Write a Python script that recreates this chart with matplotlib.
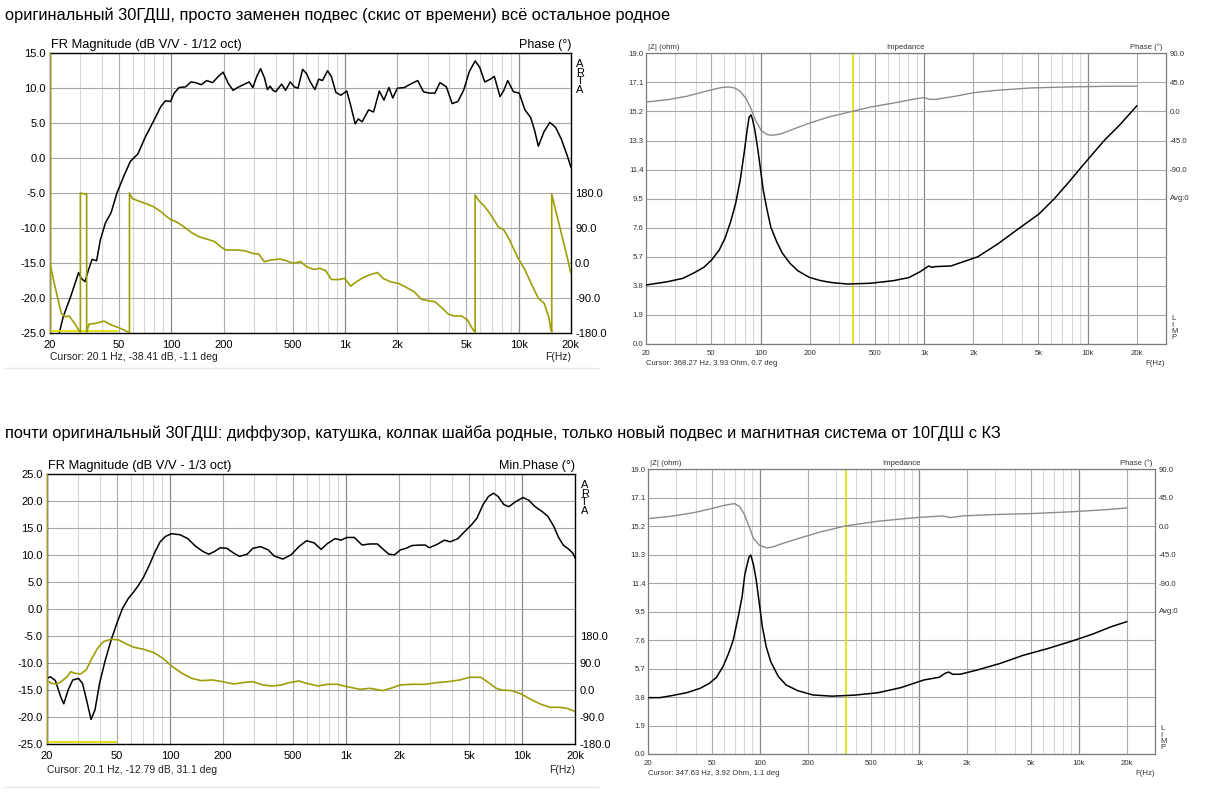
import numpy as np
import matplotlib.pyplot as plt
from matplotlib.lines import Line2D

plt.rcParams['font.family'] = ['Liberation Sans', 'DejaVu Sans']

TITLE_TOP = "оригинальный 30ГДШ, просто заменен подвес (скис от времени) всё остальное родное"
TITLE_BOTTOM = ("почти оригинальный 30ГДШ: диффузор, катушка, колпак шайба родные, "
                "только новый подвес и магнитная система от 10ГДШ с КЗ")

XTICKS = [20, 50, 100, 200, 500, 1000, 2000, 5000, 10000, 20000]
XTICK_LABELS = ["20", "50", "100", "200", "500", "1k", "2k", "5k", "10k", "20k"]

# --- panel 1: FR 1/12 oct, (Hz, dB) and wrapped phase (Hz, deg) ---
fr1_mag = [(20, -38.4), (22.7, -25.0), (23.9, -22.7), (26.4, -19.8), (29.3, -16.4), (30.3, -17.2),
           (31.9, -17.7), (33.3, -16.1), (35.0, -14.5), (37.2, -14.7), (39.1, -11.7), (41.8, -9.3),
           (45.1, -7.8), (48.7, -5.0), (53.1, -2.7), (58.1, -0.5), (64.3, 0.6), (71.2, 3.1),
           (78.8, 5.2), (87.2, 7.4), (92.7, 8.2), (99.1, 8.1), (104, 9.3), (111, 10.1), (121, 10.2),
           (130, 10.9), (138, 10.8), (149, 10.5), (160, 11.1), (173, 10.8), (187, 11.7), (199, 12.3),
           (213, 10.7), (227, 9.7), (241, 10.1), (260, 10.5), (281, 10.9), (295, 10.1), (311, 11.7),
           (327, 12.8), (344, 11.5), (358, 9.8), (371, 10.3), (385, 9.7), (400, 9.5), (432, 10.6),
           (455, 9.7), (485, 10.9), (511, 10.2), (537, 10.0), (571, 12.7), (601, 12.1), (632, 10.9),
           (672, 9.8), (706, 11.3), (743, 11.1), (794, 12.5), (835, 11.7), (887, 9.4), (948, 9.0),
           (1025, 9.6), (1078, 7.6), (1146, 4.9), (1194, 5.6), (1256, 5.2), (1369, 6.9), (1462, 6.6),
           (1578, 9.6), (1678, 8.3), (1792, 10.1), (1885, 8.6), (2004, 10.0), (2197, 10.1),
           (2432, 10.7), (2624, 11.1), (2832, 9.5), (3056, 9.3), (3298, 9.3), (3524, 10.8),
           (3838, 10.2), (4142, 7.8), (4470, 8.1), (4824, 9.7), (5206, 12.4), (5622, 13.9),
           (5973, 13.0), (6382, 10.9), (6887, 11.3), (7245, 11.7), (7818, 8.8), (8224, 9.7),
           (8652, 11.1), (9340, 9.5), (10079, 9.3), (10877, 6.9), (11738, 5.8), (12348, 4.0),
           (12990, 1.7), (14020, 3.8), (15131, 5.1), (16329, 4.4), (17622, 2.7), (19018, 0.4),
           (20000, -1.3)]
fr1_phase = [(20, 0.4), (21.0, -44), (22.1, -87), (23.3, -130), (24.5, -139), (25.8, -137),
             (27.8, -156), (29.7, -177), (30.0, -180), (30.0, 180), (31.9, 177), (32.6, 178),
             (32.6, -180), (33.6, -158), (36.8, -156), (41.1, -150), (45.1, -160), (49.9, -167),
             (55.2, -176), (57.5, -180), (57.5, 180), (59.6, 166), (64.3, 160), (71.2, 153),
             (78.8, 145), (87.2, 132), (94.2, 119), (99.1, 112), (106.9, 106), (118.3, 93),
             (131, 78), (145, 67), (160.5, 61), (177.6, 55), (191.7, 42), (206.9, 33), (241, 33),
             (266.7, 31), (295.2, 24), (318.6, 23), (343.8, 3), (371, 7), (421, 10), (454.6, 6),
             (503, -1), (557, 3), (601, -10), (665, -17), (718, -14), (775, -20), (836, -43),
             (926, -43), (999, -40), (1078, -60), (1163, -49), (1288, -37), (1390, -31),
             (1538, -25), (1660, -40), (1838, -49), (2034, -53), (2252, -63), (2492, -74),
             (2758, -94), (3054, -98), (3296, -100), (3557, -113), (3937, -132), (4248, -137),
             (4702, -137), (5075, -147), (5340, -165), (5618, -180), (5618, 175), (5910, 160),
             (6378, 145), (6710, 132), (7244, 110), (7620, 93), (8224, 85), (8874, 59),
             (9824, 16), (10872, -18), (12032, -61), (12988, -91), (14016, -104), (14898, -139),
             (15360, -173), (15516, -178), (15516, 177), (16326, 136), (17620, 76), (19010, 16),
             (20000, -27)]
fr1_range = (20, 49, -24.7)

# --- panel 3: FR 1/3 oct ---
fr3_mag = [(20, -12.8), (21.0, -12.5), (22.4, -13.2), (24.0, -16.2), (25.0, -17.5), (26.5, -14.9),
           (28.1, -13.1), (30.3, -12.8), (31.9, -13.7), (33.5, -16.5), (35.7, -20.4), (37.6, -18.6),
           (39.9, -13.7), (43.0, -9.4), (46.4, -5.7), (50.0, -2.6), (53.9, 0.2), (58.1, 2.0),
           (62.6, 3.3), (66.5, 4.5), (71.0, 6.0), (76.5, 8.2), (82.5, 10.7), (88.0, 12.5),
           (94.4, 13.5), (102.3, 14.0), (114.2, 13.8), (126.2, 13.1), (139.5, 11.7), (154.2, 10.7),
           (166.2, 10.2), (179.1, 10.7), (193.1, 11.4), (210.3, 11.3), (230.2, 10.4), (248.1, 9.8),
           (274.2, 10.2), (295.6, 11.3), (326.8, 11.6), (361.2, 11.0), (389.4, 9.9), (436.7, 9.3),
           (487.6, 10.1), (539.1, 11.6), (595.9, 12.7), (658.6, 12.3), (720.6, 11.1), (784.4, 12.2),
           (867.1, 13.1), (934.7, 12.8), (1007.6, 13.3), (1113.7, 13.3), (1230.8, 11.9),
           (1360.7, 12.1), (1504, 12.1), (1637, 11.0), (1748, 10.2), (1884, 10.1), (2030, 11.0),
           (2188, 11.3), (2358, 11.8), (2607, 11.9), (2810, 11.9), (2955, 11.4), (3267, 12.0),
           (3611, 12.8), (3893, 12.5), (4304, 13.1), (4638, 14.2), (5126, 15.6), (5525, 16.9),
           (5957, 19.3), (6420, 20.9), (6851, 21.5), (7273, 20.9), (7841, 19.4), (8370, 19.0),
           (9113, 19.9), (10073, 20.7), (10856, 20.2), (11704, 19.1), (12939, 18.1), (13949, 17.2),
           (15035, 15.4), (16043, 13.3), (17034, 11.9), (18358, 11.1), (19304, 10.4), (20000, 9.4)]
fr3_phase = [(20, 31), (21.3, 23.3), (22.8, 21.1), (24.2, 28.9), (26.1, 45.6), (27.4, 62.2),
             (28.8, 56.7), (31.1, 54.4), (33.5, 67.8), (36.1, 106.7), (38.9, 140), (41.9, 162.2),
             (46.4, 170), (51.3, 167.8), (56.6, 154.4), (62.6, 143.3), (71.0, 136.7), (80.4, 126.7),
             (91.2, 106.7), (103.3, 78.9), (117.1, 56.7), (132.7, 40), (150.4, 32.2), (174.7, 34.4),
             (198, 28.9), (230.2, 21.1), (267.5, 26.7), (295.6, 28.9), (335.1, 17.8), (379.8, 14.4),
             (430.2, 17.8), (475.6, 25.6), (539.1, 31.1), (595.9, 23.3), (692.3, 14.4), (784.4, 20),
             (888.9, 20), (1007.6, 12.2), (1200.4, 3.3), (1360.7, 6.7), (1620.9, -1.1), (1792, 6.7),
             (2030, 17.8), (2358, 20), (2810, 20), (3267, 25.6), (3797, 28.9), (4413, 34.4),
             (4999, 43.3), (5809, 43.3), (6420, 25.6), (7093, 6.7), (7647, 1.1), (8669, -1.1),
             (9823, -12.2), (11132, -30), (12619, -45.6), (14302, -56.7), (16205, -56.7),
             (17905, -60), (20000, -71.1)]
fr3_range = (20, 49.5, -24.6)

# --- panel 2: impedance (Hz, ohm) and phase (Hz, deg) ---
imp2_z = [(20, 3.86), (26.9, 4.07), (33.4, 4.29), (39.3, 4.66), (44.9, 5.01), (50.1, 5.49),
          (55.8, 6.14), (60.5, 6.91), (65.6, 8.00), (70.3, 9.19), (75.0, 10.72), (79.2, 12.46),
          (82.7, 13.99), (85.0, 14.82), (87.3, 14.97), (89.2, 14.69), (92.1, 13.99), (95.6, 12.90),
          (99.3, 11.59), (103.7, 10.07), (109.5, 8.76), (115.5, 7.63), (125.3, 6.69), (135.9, 5.93),
          (151.4, 5.27), (168.7, 4.79), (198.2, 4.36), (233.1, 4.14), (274.0, 4.01), (340.1, 3.92),
          (470.1, 3.97), (649.8, 4.14), (806.4, 4.34), (948, 4.73), (1068, 5.10), (1115, 5.01),
          (1177, 5.06), (1460, 5.10), (2130, 5.7), (2789, 6.5), (3857, 7.6), (5050, 8.5),
          (6268, 9.5), (7573, 10.5), (8904, 11.4), (12640, 13.3), (15690, 14.3), (20000, 15.56)]
imp2_phase = [(20, 14.6), (26.9, 18.2), (35.2, 23.4), (46.1, 31.2), (57.3, 36.9), (63.8, 38.0),
              (69.2, 36.4), (75.0, 31.2), (81.4, 19.8), (87.3, 4.2), (93.1, -14.0), (101.0, -29.7),
              (109.5, -35.9), (118.7, -36.9), (132.2, -34.9), (159.7, -27.1), (198.2, -18.2),
              (259.6, -8.8), (340.1, -1.6), (470.1, 6.8), (649.8, 13.0), (898.5, 19.8),
              (1001, 21.3), (1085, 18.7), (1177, 18.7), (1541, 23.4), (2018, 29.1), (2789, 32.8),
              (4534, 36.4), (7775, 38.0), (13346, 39.0), (20000, 39.0)]

# --- panel 4: impedance ---
imp4_z = [(20, 3.76), (23.6, 3.76), (27.9, 3.89), (34.8, 4.09), (42.2, 4.38), (48.4, 4.72),
          (53.5, 5.12), (58.8, 5.83), (63.8, 6.72), (68.2, 7.61), (73.3, 9.17), (77.5, 10.50),
          (80.5, 11.95), (83.2, 12.61), (85.5, 13.13), (87.9, 13.28), (91.4, 12.61), (95.0, 11.61),
          (99.3, 10.06), (103.8, 8.50), (109.7, 7.16), (117.2, 6.16), (130.9, 5.16), (146.2, 4.61),
          (172.6, 4.23), (215.3, 3.94), (283.8, 3.86), (395.6, 3.93), (551.1, 4.09), (767.5, 4.43),
          (1069, 4.94), (1334, 5.12), (1449, 5.38), (1531, 5.47), (1619, 5.32), (1808, 5.32),
          (2318, 5.61), (3228, 6.05), (4497, 6.59), (6265, 7.01), (8730, 7.48), (12162, 7.99),
          (16034, 8.50), (20000, 8.83)]
imp4_phase = [(20, 12.1), (27.9, 15.8), (38.8, 21.6), (49.8, 27.9), (60.4, 33.2), (69.3, 35.8),
              (74.5, 31.6), (79.6, 20.0), (85.1, 1.6), (91.4, -19.5), (99.3, -30.0), (110.9, -34.2),
              (120.5, -32.7), (138.4, -27.4), (182.4, -17.9), (240.5, -9.0), (344.4, 0.5),
              (551.1, 7.9), (957, 13.7), (1410, 16.3), (1490, 14.8), (1575, 13.7), (1858, 16.3),
              (2891, 18.4), (5024, 20.0), (8730, 22.7), (15170, 26.3), (20000, 29.0)]

OLIVE = "#9e9e08"
YELLOW = "#dede00"


def freq_grid(ax, fmax):
    for f in [30, 40, 60, 70, 80, 90, 300, 400, 600, 700, 800, 900,
              3000, 4000, 6000, 7000, 8000, 9000]:
        ax.axvline(f, color="#d6d6d6", lw=0.8, zorder=0)
    for f in [50, 200, 500, 2000, 5000, 20000]:
        if f < fmax:
            ax.axvline(f, color="#ababab", lw=0.8, zorder=0)
    for f in [100, 1000, 10000]:
        ax.axvline(f, color="#8a8a8a", lw=0.9, zorder=0)


def xy(pairs):
    a = np.array(pairs, dtype=float)
    return a[:, 0], a[:, 1]


def fr_panel(rect, mag, phase, rng, ylim, header, ph_header, cursor, cur_off):
    ax = fig.add_axes(rect)
    ax.set_xscale("log")
    ax.set_xlim(20, 20000)
    ax.set_ylim(*ylim)
    freq_grid(ax, 20000)
    yt = np.arange(ylim[0], ylim[1] + 0.1, 5)
    ax.set_yticks(yt)
    ax.set_yticklabels([f"{v:.1f}" for v in yt])
    ax.grid(axis="y", color="#a8a8a8", lw=0.8)
    ax.set_xticks(XTICKS)
    ax.set_xticklabels(XTICK_LABELS)
    ax.minorticks_off()
    ax.tick_params(length=0, labelsize=8, pad=3)
    ax.tick_params(axis="x", pad=5)
    for s in ax.spines.values():
        s.set_color("black")
        s.set_linewidth(1.0)
    f, v = xy(mag)
    ax.plot(f, v, color="black", lw=1.1, zorder=3)
    ax.plot(rng[:2], [rng[2]] * 2, color=YELLOW, lw=1.3, zorder=3)
    ax.axvline(20.1, color=OLIVE, lw=1.5, zorder=4)

    # phase: 180 deg at -5 dB, -180 deg at bottom
    axp = ax.twinx()
    top = 180 + (ylim[1] + 5) * 18
    axp.set_ylim(-180, top)
    axp.set_yticks([-180, -90, 0, 90, 180])
    axp.set_yticklabels(["-180.0", "-90.0", "0.0", "90.0", "180.0"])
    axp.tick_params(length=0, labelsize=8, pad=3)
    for s in axp.spines.values():
        s.set_visible(False)
    f, p = xy(phase)
    axp.plot(f, p, color=OLIVE, lw=1.2, zorder=2)

    ax.annotate(header, (0, 1), xycoords="axes fraction", xytext=(1, 2),
                textcoords="offset points", ha="left", va="bottom", fontsize=9.3)
    ax.annotate(ph_header, (1, 1), xycoords="axes fraction", xytext=(0, 2),
                textcoords="offset points", ha="right", va="bottom", fontsize=9)
    ax.annotate("A\nR\nT\nA", (1, 1), xycoords="axes fraction", xytext=(4, -4),
                textcoords="offset points", ha="left", va="top", fontsize=8,
                linespacing=0.85)
    ax.annotate(cursor, (0, 0), xycoords="axes fraction", xytext=(0, -cur_off),
                textcoords="offset points", ha="left", va="center", fontsize=7.5,
                color="#202020")
    ax.annotate("F(Hz)", (1, 0), xycoords="axes fraction", xytext=(0, -cur_off),
                textcoords="offset points", ha="right", va="center", fontsize=7.5,
                color="#202020")
    return ax


def imp_panel(rect, zdata, phase, cursor_f, cursor):
    ax = fig.add_axes(rect)
    ax.set_xscale("log")
    ax.set_xlim(20, 30000)
    ax.set_ylim(0, 19)
    freq_grid(ax, 30000)
    yt = np.arange(0, 19.01, 1.9)
    ax.set_yticks(yt)
    ax.set_yticklabels([f"{v:.1f}" for v in yt])
    ax.grid(axis="y", color="#a8a8a8", lw=0.8)
    ax.set_xticks(XTICKS)
    ax.set_xticklabels(XTICK_LABELS)
    ax.minorticks_off()
    ax.tick_params(length=0, labelsize=5.6, pad=2, labelcolor="#333333")
    ax.tick_params(axis="x", pad=4)
    for s in ax.spines.values():
        s.set_color("#7a7a7a")
        s.set_linewidth(0.9)
    ax.axvline(cursor_f, color=YELLOW, lw=1.2, zorder=2)
    f, z = xy(zdata)
    ax.plot(f, z, color="black", lw=1.1, zorder=3)

    axp = ax.twinx()
    axp.set_ylim(-360, 90)
    axp.set_yticks([-90, -45, 0, 45, 90])
    axp.set_yticklabels(["-90.0", "-45.0", "0.0", "45.0", "90.0"])
    axp.tick_params(length=0, labelsize=5.6, pad=3, labelcolor="#333333")
    for s in axp.spines.values():
        s.set_visible(False)
    f, p = xy(phase)
    axp.plot(f, p, color="#8c8c8c", lw=1.0, zorder=2)

    kw = dict(xycoords="axes fraction", textcoords="offset points", fontsize=5.6,
              color="#333333")
    ax.annotate("|Z| (ohm)", (0, 1), xytext=(1, 1.5), ha="left", va="bottom", **kw)
    ax.annotate("Impedance", (0.5, 1), xytext=(0, 1.5), ha="center", va="bottom", **kw)
    ax.annotate("Phase (°)", (1, 1), xytext=(-2, 1.5), ha="right", va="bottom", **kw)
    ax.annotate("Avg:0", (1, 0.5), xytext=(3, 0), ha="left", va="center", **kw)
    ax.annotate("L\nI\nM\nP", (1, 0), xytext=(4, 2), ha="left", va="bottom",
                linespacing=0.85, **kw)
    ax.annotate(cursor, (0, 0), xytext=(0, -14), ha="left", va="center", **kw)
    ax.annotate("F(Hz)", (1, 0), xytext=(0, -14), ha="right", va="center", **kw)
    return ax


fig = plt.figure(figsize=(12.18, 8.08), dpi=100)
fig.patch.set_facecolor("white")

fig.text(5 / 1218, 1 - 15 / 808, TITLE_TOP, ha="left", va="center", fontsize=11.8)
fig.text(5 / 1218, 1 - 433 / 808, TITLE_BOTTOM, ha="left", va="center", fontsize=11.75)

W, H = 1218, 808


def rect(x0, y0, x1, y1):
    return [x0 / W, 1 - y1 / H, (x1 - x0) / W, (y1 - y0) / H]


fr_panel(rect(49.8, 53.3, 570.9, 332.7), fr1_mag, fr1_phase, fr1_range, (-25, 15),
         "FR Magnitude (dB V/V - 1/12 oct)", "Phase (°)",
         "Cursor: 20.1 Hz, -38.41 dB, -1.1 deg", 17.5)
fr_panel(rect(46.7, 474.3, 575.5, 744.3), fr3_mag, fr3_phase, fr3_range, (-25, 25),
         "FR Magnitude (dB V/V - 1/3 oct)", "Min.Phase (°)",
         "Cursor: 20.1 Hz, -12.79 dB, 31.1 deg", 18.5)
imp_panel(rect(646.4, 53.3, 1165.5, 344.0), imp2_z, imp2_phase, 368.27,
          "Cursor: 368.27 Hz, 3.93 Ohm, 0.7 deg")
imp_panel(rect(648.3, 469.3, 1154.8, 754.0), imp4_z, imp4_phase, 347.63,
          "Cursor: 347.63 Hz, 3.92 Ohm, 1.1 deg")

for yline in (368, 787):
    fig.add_artist(Line2D([5 / W, 598 / W], [1 - yline / H] * 2, color="#e6e6e6", lw=1))

fig.savefig("out.png", dpi=100)
